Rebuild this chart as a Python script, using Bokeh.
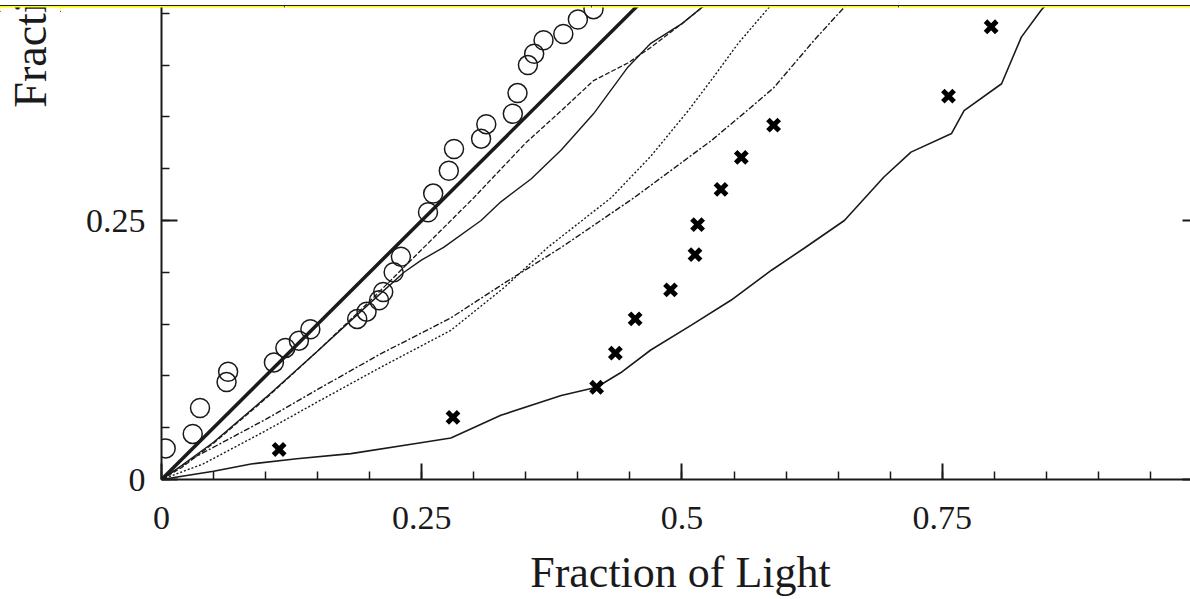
import math
from bokeh.plotting import figure
from bokeh.models import Range1d, FixedTicker, LinearAxis, Label, Div, CustomJSTickFormatter
from bokeh.layouts import column, row
from bokeh.embed import file_html
from bokeh.resources import INLINE

# ---------------- data ----------------
major_ticks = [0, 0.25, 0.5, 0.75, 1.0]
minor_ticks = [round(i * 0.05, 2) for i in range(21)]

x_axis_title = "Fraction of Light"
y_axis_title = "Fraction of Mass"

# line of equality
equal_x = [0.0, 1.0]
equal_y = [0.0, 1.0]

# open circles
circle_x = [0.004, 0.030, 0.037, 0.0625, 0.064, 0.108, 0.119, 0.132, 0.143, 0.188,
            0.197, 0.209, 0.213, 0.223, 0.230, 0.256, 0.261, 0.276, 0.281, 0.307,
            0.312, 0.3375, 0.342, 0.352, 0.358, 0.367, 0.386, 0.400, 0.415]
circle_y = [0.030, 0.044, 0.069, 0.094, 0.104, 0.113, 0.127, 0.134, 0.145, 0.155,
            0.162, 0.173, 0.181, 0.200, 0.215, 0.258, 0.276, 0.298, 0.319, 0.329,
            0.343, 0.353, 0.373, 0.400, 0.411, 0.424, 0.430, 0.444, 0.454]

# fine dashed curve just under the diagonal
dashed_x = [0, 0.02, 0.05, 0.10, 0.15, 0.20, 0.25, 0.30, 0.35, 0.384, 0.415, 0.448, 0.47, 0.50, 0.522, 0.55]
dashed_y = [0, 0.012, 0.035, 0.078, 0.124, 0.172, 0.222, 0.272, 0.325, 0.356, 0.385, 0.402, 0.417, 0.440, 0.458, 0.48]

# thin solid curve
thin_x = [0, 0.02, 0.05, 0.10, 0.15, 0.20, 0.233, 0.25, 0.271, 0.307, 0.326, 0.355, 0.384, 0.415, 0.448, 0.47, 0.50, 0.522, 0.55]
thin_y = [0, 0.014, 0.036, 0.079, 0.124, 0.170, 0.200, 0.212, 0.224, 0.250, 0.268, 0.290, 0.318, 0.353, 0.398, 0.421, 0.440, 0.458, 0.48]

# dotted curve
dotted_x = [0, 0.040, 0.10, 0.15, 0.21, 0.278, 0.33, 0.371, 0.432, 0.47, 0.506, 0.53, 0.554, 0.583, 0.60]
dotted_y = [0, 0.015, 0.047, 0.075, 0.108, 0.144, 0.186, 0.224, 0.272, 0.312, 0.356, 0.388, 0.421, 0.455, 0.475]

# dash-dot curve
dashdot_x = [0, 0.031, 0.10, 0.15, 0.21, 0.278, 0.33, 0.384, 0.454, 0.528, 0.566, 0.588, 0.627, 0.656, 0.67]
dashdot_y = [0, 0.021, 0.058, 0.087, 0.121, 0.156, 0.190, 0.224, 0.272, 0.327, 0.359, 0.378, 0.424, 0.456, 0.47]

# crosses
cross_x = [0.113, 0.280, 0.418, 0.436, 0.455, 0.489, 0.5125, 0.515, 0.5375, 0.557, 0.588, 0.756, 0.797]
cross_y = [0.029, 0.060, 0.089, 0.122, 0.155, 0.183, 0.217, 0.246, 0.280, 0.311, 0.342, 0.370, 0.437]

# lower solid curve
lower_x = [0, 0.05, 0.086, 0.13, 0.182, 0.246, 0.278, 0.326, 0.384, 0.418, 0.441, 0.47, 0.509,
           0.547, 0.586, 0.617, 0.656, 0.694, 0.72, 0.759, 0.771, 0.807, 0.826, 0.845, 0.86]
lower_y = [0, 0.008, 0.015, 0.020, 0.025, 0.035, 0.040, 0.062, 0.081, 0.089, 0.103, 0.125, 0.149,
           0.173, 0.202, 0.223, 0.250, 0.292, 0.316, 0.334, 0.356, 0.382, 0.427, 0.453, 0.47]

# ---------------- layout constants ----------------
INK = "#1a1a1a"
SERIF = "Liberation Serif"
BAND_H = 7            # yellow strip at the very top
FRAME_H = 472         # plotting frame height
BOTTOM_H = 70         # tick-label panel under the frame
TITLE_H = 50          # strip holding the x title
MAIN_H = FRAME_H + BOTTOM_H
LABEL_W = 60          # narrow column holding the y title
FULL_W = 1190

# ---------------- narrow figure carrying the (cut-off) y title ----------------
lab = figure(width=LABEL_W, height=MAIN_H, output_backend="svg", toolbar_location=None,
             x_range=Range1d(0, LABEL_W), y_range=Range1d(0, MAIN_H),
             x_axis_location=None, y_axis_location=None, min_border=0,
             background_fill_color="white", border_fill_color="white")
lab.outline_line_color = None
lab.grid.visible = False
lab.add_layout(Label(x=30, y=MAIN_H - 115, text=y_axis_title, angle=math.pi / 2,
                     text_font=SERIF, text_font_size="46px", text_color=INK,
                     text_align="left", text_baseline="alphabetic"))

# ---------------- main figure ----------------
p = figure(width=FULL_W - LABEL_W, height=MAIN_H, output_backend="svg", toolbar_location=None,
           x_range=Range1d(0, 0.9885), y_range=Range1d(0, 0.4556),
           min_border_left=161 - LABEL_W, min_border_right=0, min_border_top=0,
           min_border_bottom=BOTTOM_H,
           background_fill_color="white", border_fill_color="white")
p.outline_line_color = None
p.grid.visible = False

ticker = FixedTicker(ticks=major_ticks, minor_ticks=minor_ticks)
fmt = CustomJSTickFormatter(code="return String(tick);")

for ax in [p.xaxis[0], p.yaxis[0]]:
    ax.ticker = ticker
    ax.formatter = fmt
    ax.axis_line_width = 2
    ax.axis_line_color = INK
    ax.major_tick_in = 16
    ax.major_tick_out = 0
    ax.minor_tick_in = 8
    ax.minor_tick_out = 0
    ax.major_tick_line_width = 2
    ax.minor_tick_line_width = 1.5
    ax.major_tick_line_color = INK
    ax.minor_tick_line_color = INK
    ax.major_label_text_font = SERIF
    ax.major_label_text_font_size = "34px"
    ax.major_label_text_color = INK

p.xaxis[0].major_label_standoff = 27
p.yaxis[0].major_label_standoff = 16

# right frame edge: only the stubs of the major ticks are inside the picture
right_axis = LinearAxis(ticker=FixedTicker(ticks=major_ticks),
                        formatter=CustomJSTickFormatter(code="return '';"),
                        axis_line_color=None, major_tick_in=8, major_tick_out=0,
                        minor_tick_line_color=None, major_tick_line_width=2,
                        major_tick_line_color=INK, major_label_standoff=0)
p.add_layout(right_axis, "right")

# curves
p.line(lower_x, lower_y, line_color=INK, line_width=1.6)
p.line(dotted_x, dotted_y, line_color=INK, line_width=1.4, line_dash="2 2")
p.line(dashdot_x, dashdot_y, line_color=INK, line_width=1.4, line_dash="6 2 2 2")
p.line(thin_x, thin_y, line_color=INK, line_width=1.4)
p.line(dashed_x, dashed_y, line_color=INK, line_width=1.3, line_dash="5 2")
p.line(equal_x, equal_y, line_color=INK, line_width=3.5)

p.scatter(circle_x, circle_y, marker="circle", size=19, fill_color=None,
          line_color=INK, line_width=1.5)
p.scatter(cross_x, cross_y, marker="x", size=16, line_color="black", line_width=5)

# ---------------- strip carrying the x title ----------------
xlab = figure(width=FULL_W, height=TITLE_H, output_backend="svg", toolbar_location=None,
              x_range=Range1d(0, FULL_W), y_range=Range1d(0, TITLE_H),
              x_axis_location=None, y_axis_location=None, min_border=0,
              background_fill_color="white", border_fill_color="white")
xlab.outline_line_color = None
xlab.grid.visible = False
xlab.add_layout(Label(x=680, y=27, text=x_axis_title, text_font=SERIF,
                      text_font_size="44px", text_color=INK,
                      text_align="center", text_baseline="alphabetic"))

# ---------------- yellow strip at the top of the picture ----------------
dividers = [284, 591, 898]
div_html = (f'<div style="position:relative;width:{FULL_W}px;height:{BAND_H}px;background:#ffff00;'
            'border-top:1px solid #222;border-bottom:1px solid #222;box-sizing:border-box;">')
for d in dividers:
    div_html += (f'<div style="position:absolute;left:{d}px;top:0px;width:1px;height:5px;background:#444;"></div>'
                 f'<div style="position:absolute;left:{d+1}px;top:0px;width:2px;height:6px;background:#ffff66;"></div>')
div_html += '</div>'
band = Div(text=div_html, width=FULL_W, height=BAND_H, margin=0)

layout = column(band, row(lab, p, spacing=0), xlab, spacing=0)
open("out.html", "w").write(file_html(layout, INLINE))
